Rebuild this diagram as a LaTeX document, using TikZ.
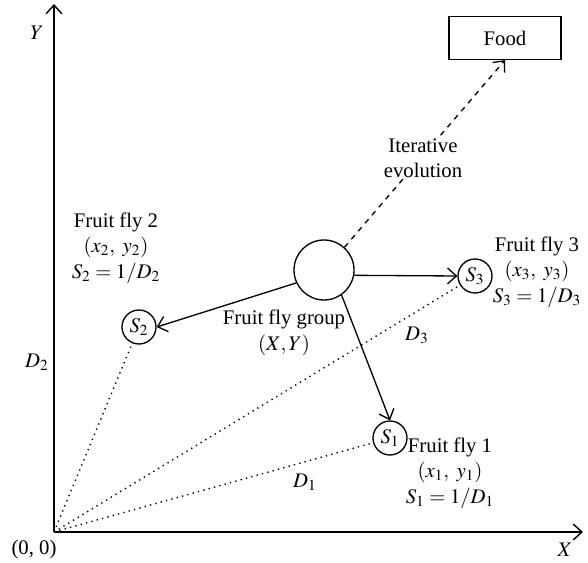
\documentclass[tikz,border=0pt]{standalone}
\usepackage{mathptmx}
\usepackage{fontspec}
\setmainfont{Liberation Serif}
\usepackage{tikz}
\usetikzlibrary{arrows.meta}

\begin{document}
\begin{tikzpicture}[
  x=0.02cm, y=-0.02cm,
  line width=0.75pt,
  font=\fontsize{11.8}{14.5}\selectfont,
  fly/.style={circle, draw, minimum size=0.68cm, inner sep=0pt},
  swarm/.style={circle, draw, minimum size=1.2cm, inner sep=0pt},
  foodbox/.style={rectangle, draw, minimum width=2.24cm, minimum height=0.86cm},
  lbl/.style={align=center, inner sep=1pt},
  axis/.style={line width=0.8pt},
  dist/.style={line width=0.8pt, dash pattern=on 0.75pt off 2.4pt},
  >={Straight Barb[length=5pt,width=9pt]}
]
\useasboundingbox (0,0) rectangle (588,563);

\coordinate (o) at (54,532);
\coordinate (xend) at (583,532);
\coordinate (yend) at (54,4);
\draw[axis,->] (o) -- (xend);
\draw[axis,->] (o) -- (yend);
\node at (37,33) {$Y$};
\node at (565,550) {$X$};
\node at (34,550) {(0, 0)};

\node[foodbox] (food) at (505,38) {Food};
\node[swarm] (group) at (324,270) {};
\node[fly] (s1) at (390,438) {$S_1$};
\node[fly] (s2) at (139,327) {$S_2$};
\node[fly] (s3) at (475,276) {$S_3$};

\node[lbl] (grp) at (284,333) {Fruit fly group\\$(X, Y)$};
\node[lbl] (f1) at (450,473) {Fruit fly 1\\$(x_1,\ y_1)$\\$S_1 = 1/D_1$};
\node[lbl] (f2) at (116,248) {Fruit fly 2\\$(x_2,\ y_2)$\\$S_2 = 1/D_2$};
\node[lbl] (f3) at (537,272) {Fruit fly 3\\$(x_3,\ y_3)$\\$S_3 = 1/D_3$};

\draw[dashed,->] (group.48) -- (food.south);
\node[lbl, fill=white] (iter) at (423,158) {Iterative\\evolution};

\draw[->] (group.205) -- (s2.east);
\draw[->] (group.-55) -- (s1.north);
\draw[->] (group.-10) -- (s3.west);

\draw[dist] (o) -- (s1);
\draw[dist] (o) -- (s2);
\draw[dist] (o) -- (s3);
\node at (37,362) {$D_2$};
\node at (417,335) {$D_3$};
\node at (305,482) {$D_1$};
\end{tikzpicture}
\end{document}
